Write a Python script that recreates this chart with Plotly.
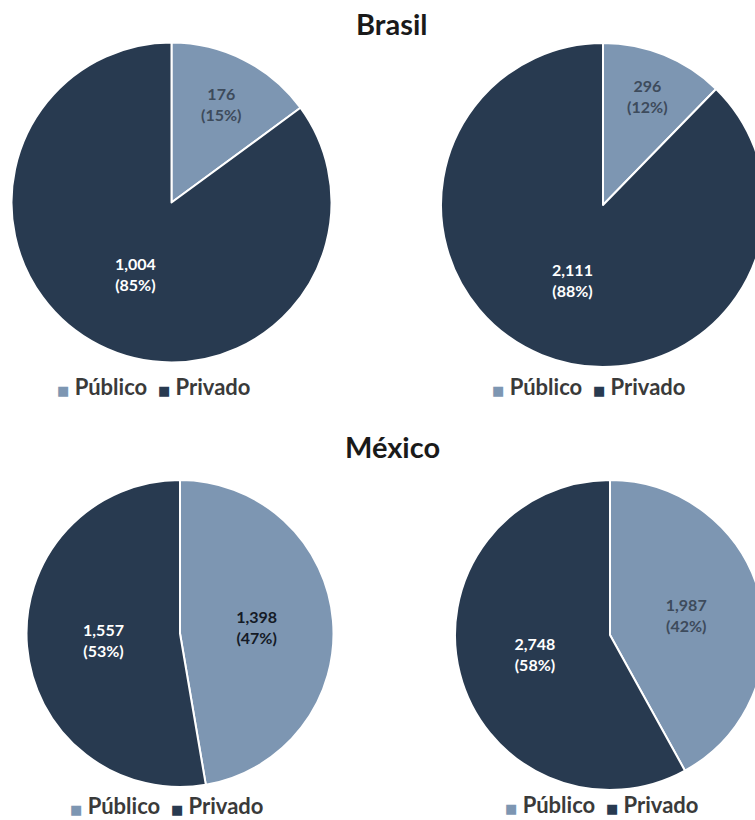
import plotly.graph_objects as go

# Sector labels and counts per country / period
sectors = ["Público", "Privado"]
brasil_a = [176, 1004]
brasil_b = [296, 2111]
mexico_a = [1398, 1557]
mexico_b = [1987, 2748]

titles = ["Brasil", "México"]

PUBLIC = "#7d96b2"
PRIVATE = "#283a50"
COLORS = [PUBLIC, PRIVATE]
FONT = "Lato"

W, H = 780, 820


def dom(x0, x1, y0, y1):
    """Pixel box (top-left origin) -> paper domain."""
    return dict(x=[x0 / W, x1 / W], y=[1 - y1 / H, 1 - y0 / H])


# (values, pie box, legend centre (x, y) in px, colour of text on the light slice)
panels = [
    (brasil_a, dom(11.5, 331.5, 42.5, 362.5), (153, 386), "#3d4b5c"),
    (brasil_b, dom(441, 765, 43, 367), (588, 386), "#3d4b5c"),
    (mexico_a, dom(26.5, 333.5, 480, 787), (166, 805), "#141a26"),
    (mexico_b, dom(455, 765, 480, 790), (601, 804), "#3d4b5c"),
]


def legend_text():
    parts = []
    for name, col in zip(sectors, COLORS):
        parts.append(
            f"<span style='color:{col};font-size:13px;font-family:DejaVu Sans'>■</span>"
            f"\u00a0{name}"
        )
    return "\u00a0\u00a0".join(parts)


fig = go.Figure()
annotations = []
for vals, domain, (lx, ly), pub_txt in panels:
    fig.add_trace(go.Pie(
        labels=sectors,
        values=vals,
        domain=domain,
        sort=False,
        direction="clockwise",
        rotation=0,
        marker=dict(colors=COLORS, line=dict(color="white", width=2)),
        texttemplate="%{value:,}<br>(%{percent:.0%})",
        textposition="inside",
        insidetextorientation="horizontal",
        textfont=dict(family=FONT, size=16, color=[pub_txt, "white"], weight="bold"),
        showlegend=False,
        hoverinfo="label+value+percent",
    ))
    annotations.append(dict(
        text=legend_text(), x=lx / W, y=1 - ly / H, xref="paper", yref="paper",
        showarrow=False, xanchor="center", yanchor="middle",
        font=dict(family=FONT, size=22, color="#3a3a3a", weight="bold"),
    ))

title_font = dict(family=FONT, size=29, color="#1a1a1a", weight="bold")
annotations += [
    dict(text=titles[0], x=392 / W, y=1 - 23 / H, xref="paper", yref="paper",
         showarrow=False, xanchor="center", yanchor="middle", font=title_font),
    dict(text=titles[1], x=392 / W, y=1 - 446 / H, xref="paper", yref="paper",
         showarrow=False, xanchor="center", yanchor="middle", font=title_font),
]

fig.update_layout(
    width=W,
    height=H,
    margin=dict(l=0, r=0, t=0, b=0, autoexpand=False),
    paper_bgcolor="white",
    plot_bgcolor="white",
    annotations=annotations,
)

fig.write_html(
    "out.html",
    post_script="document.body.style.margin='0';document.body.style.overflow='hidden';",
)
